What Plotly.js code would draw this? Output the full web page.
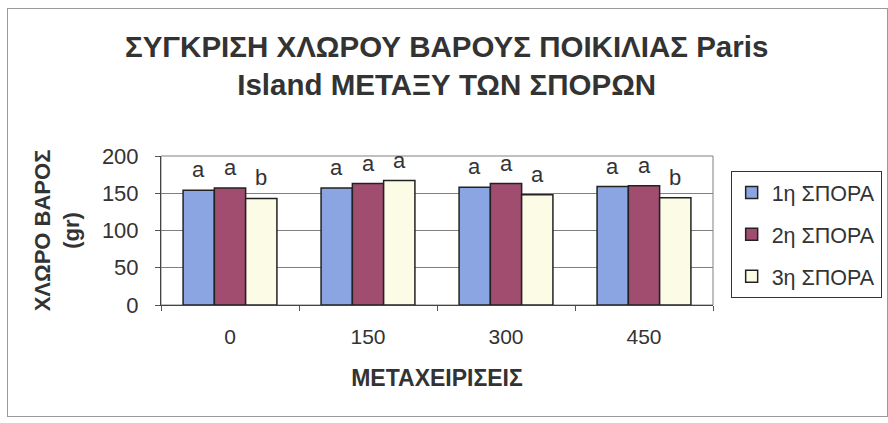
<!DOCTYPE html>
<html>
<head>
<meta charset="utf-8">
<script src="https://cdn.plot.ly/plotly-3.0.1.min.js"></script>
<style>
  html, body { margin: 0; padding: 0; background: #fff; }
  #wrap { position: relative; width: 888px; height: 423px; }
  #frame { position: absolute; left: 7px; top: 8px; width: 879px; height: 407px;
           border: 1px solid #9a9a9a; pointer-events: none; }
  #chart { position: absolute; left: 0; top: 0; width: 888px; height: 423px; }
</style>
</head>
<body>
<div id="wrap">
  <div id="chart"></div>
  <div id="frame"></div>
</div>
<script>
// Treatments (x categories)
const treatments = ['0', '150', '300', '450'];

// Fresh weight (gr) per sowing
const sowing1 = [154, 157, 158, 159];
const sowing2 = [157, 163, 163, 160];
const sowing3 = [143, 167, 148, 144];

// Significance letters per sowing
const letters1 = ['a', 'a', 'a', 'a'];
const letters2 = ['a', 'a', 'a', 'a'];
const letters3 = ['b', 'a', 'a', 'b'];

const seriesNames = ['1η ΣΠΟΡΑ', '2η ΣΠΟΡΑ', '3η ΣΠΟΡΑ'];
const seriesValues = [sowing1, sowing2, sowing3];
const seriesLetters = [letters1, letters2, letters3];
const seriesColors = ['#8aa5e2', '#a04d70', '#fcfce6'];

const FONT = 'Liberation Sans, Arial, sans-serif';

const traces = seriesValues.map((vals, i) => ({
  type: 'bar',
  name: seriesNames[i],
  x: treatments,
  y: vals,
  legendgroup: 'g' + i,
  marker: { color: seriesColors[i], line: { color: '#222', width: 1.5 } },
  hoverinfo: 'x+y+name'
}));

// letter annotations sit just above each bar (x given as category index)
const plotW = 888 - 161 - 175;
const bargap = 0.32;
const barPx = plotW / treatments.length * (1 - bargap) / 3;
const annotations = [];
seriesValues.forEach((vals, i) => {
  vals.forEach((v, j) => {
    annotations.push({
      x: j, y: v, xref: 'x', yref: 'y',
      xshift: (i - 1) * barPx, yshift: 6,
      yanchor: 'bottom', showarrow: false,
      text: seriesLetters[i][j],
      font: { family: FONT, size: 22, color: '#333' }
    });
  });
});

const layout = {
  width: 888, height: 423,
  margin: { l: 161, r: 175, t: 156, b: 118, autoexpand: false },
  paper_bgcolor: '#fff', plot_bgcolor: '#fff',
  barmode: 'group', bargap: bargap, bargroupgap: 0,
  title: {
    text: '<b>ΣΥΓΚΡΙΣΗ ΧΛΩΡΟΥ ΒΑΡΟΥΣ ΠΟΙΚΙΛΙΑΣ Paris<br>Island ΜΕΤΑΞΥ ΤΩΝ ΣΠΟΡΩΝ</b>',
    x: 0.503, xanchor: 'center', y: 0.865, yanchor: 'top', yref: 'container',
    font: { family: FONT, size: 29.5, color: '#333' }
  },
  xaxis: {
    type: 'category', range: [-0.5, treatments.length - 0.5],
    tickson: 'boundaries', ticks: 'outside', ticklen: 5, tickcolor: '#555',
    showline: true, linecolor: '#444', linewidth: 1,
    showgrid: false,
    tickfont: { family: FONT, size: 21, color: '#333' },
    ticklabelstandoff: 13,
    title: { text: '<b>ΜΕΤΑΧΕΙΡΙΣΕΙΣ</b>', standoff: 22,
             font: { family: FONT, size: 23, color: '#333' } }
  },
  yaxis: {
    range: [0, 200], tickvals: [0, 50, 100, 150, 200],
    ticks: 'outside', ticklen: 5, tickcolor: '#555',
    showline: true, linecolor: '#444', linewidth: 1,
    showgrid: true, gridcolor: '#808080', gridwidth: 1,
    zeroline: false,
    tickfont: { family: FONT, size: 22, color: '#333' },
    ticklabelstandoff: 12,
    title: { text: '<b>ΧΛΩΡΟ ΒΑΡΟΣ<br>(gr)</b>', standoff: 16,
             font: { family: FONT, size: 22, color: '#333' } }
  },
  legend: {
    x: 1.032, xanchor: 'left', y: 0.9, yanchor: 'top',
    bordercolor: '#333', borderwidth: 1, bgcolor: '#fff',
    tracegroupgap: 11, itemwidth: 30,
    font: { family: FONT, size: 21.5, color: '#333' }
  },
  shapes: [{
    type: 'rect', xref: 'paper', yref: 'paper', x0: 0, x1: 1, y0: 0, y1: 1,
    line: { color: '#808080', width: 1 }, layer: 'below'
  }],
  annotations: annotations,
  showlegend: true
};

Plotly.newPlot('chart', traces, layout, { displayModeBar: false, staticPlot: true });
</script>
</body>
</html>
